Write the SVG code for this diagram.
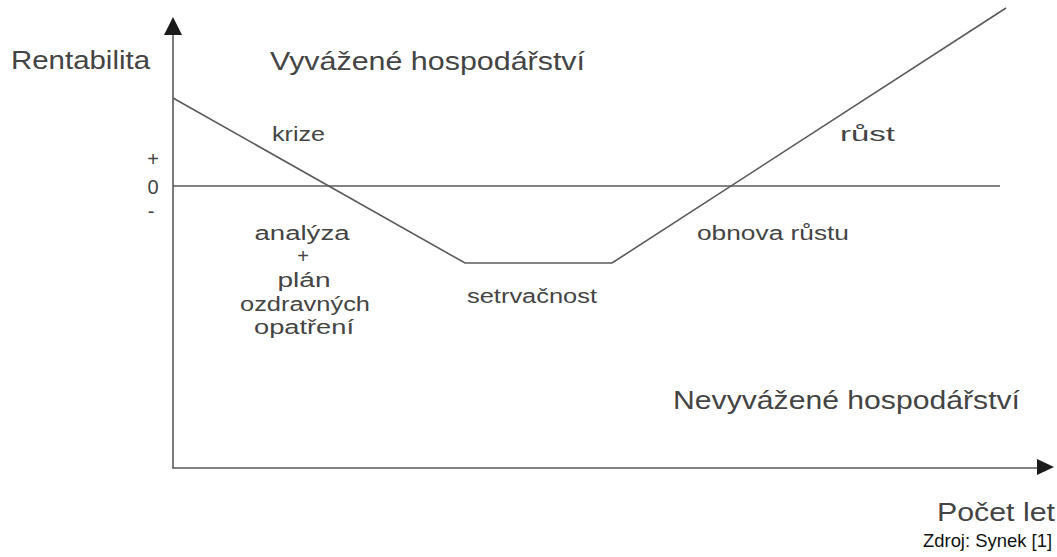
<svg xmlns="http://www.w3.org/2000/svg" width="1057" height="557" viewBox="0 0 1057 557">
<style>
.t{font-family:"Liberation Sans",Arial,sans-serif;fill:#444}
.l{font-size:25px}
.m{font-size:20px}
.ln{stroke:#5a5a5a;stroke-width:1.6;fill:none}
</style>
<rect width="1057" height="557" fill="#fff"/>
<g id="axes">
<line class="ln" x1="173" y1="468" x2="173" y2="35"/>
<path d="M164,35 L173,17 L182,35 Z" fill="#1a1a1a"/>
<line class="ln" x1="172" y1="468" x2="1038" y2="468"/>
<path d="M1037,459 L1054,467 L1037,475 Z" fill="#1a1a1a"/>
<line class="ln" x1="173" y1="186" x2="1000" y2="186"/>
</g>
<g id="connectors">
<polyline class="ln" points="173,98 465,263 612,263 1006,8"/>
</g>
<g id="labels">
<text class="t l" x="11" y="69" textLength="139" lengthAdjust="spacingAndGlyphs">Rentabilita</text>
<text class="t l" x="270" y="70" textLength="315" lengthAdjust="spacingAndGlyphs">Vyvážené hospodářství</text>
<text class="t m" x="272" y="141" textLength="53" lengthAdjust="spacingAndGlyphs">krize</text>
<text class="t m" x="840" y="141" textLength="55" lengthAdjust="spacingAndGlyphs">růst</text>
<text class="t m" x="153" y="166" text-anchor="middle">+</text>
<text class="t m" x="153" y="194" text-anchor="middle">0</text>
<text class="t m" x="151" y="218" text-anchor="middle">-</text>
<text class="t m" x="302" y="240" text-anchor="middle" textLength="95" lengthAdjust="spacingAndGlyphs">analýza</text>
<text class="t m" x="303" y="263" text-anchor="middle">+</text>
<text class="t m" x="304" y="287" text-anchor="middle" textLength="53" lengthAdjust="spacingAndGlyphs">plán</text>
<text class="t m" x="305" y="311" text-anchor="middle" textLength="130" lengthAdjust="spacingAndGlyphs">ozdravných</text>
<text class="t m" x="304" y="334" text-anchor="middle" textLength="100" lengthAdjust="spacingAndGlyphs">opatření</text>
<text class="t m" x="467" y="303" textLength="130" lengthAdjust="spacingAndGlyphs">setrvačnost</text>
<text class="t m" x="697" y="240" textLength="152" lengthAdjust="spacingAndGlyphs">obnova růstu</text>
<text class="t l" x="673" y="409" textLength="347" lengthAdjust="spacingAndGlyphs">Nevyvážené hospodářství</text>
<text class="t l" x="1055" y="521" text-anchor="end" textLength="118" lengthAdjust="spacingAndGlyphs">Počet let</text>
<text x="1052" y="547" text-anchor="end" font-family="Liberation Sans,Arial,sans-serif" font-size="19" fill="#111" textLength="129" lengthAdjust="spacingAndGlyphs">Zdroj: Synek [1]</text>
</g>
</svg>
